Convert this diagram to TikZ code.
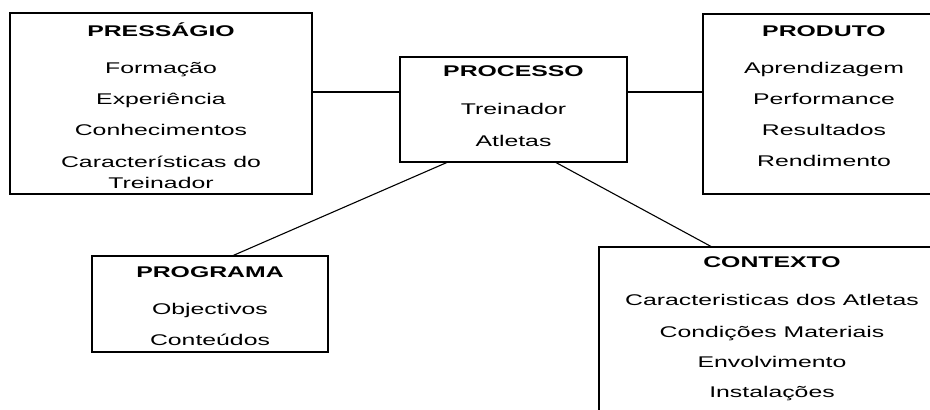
\documentclass[tikz,border=0pt]{standalone}
\usepackage{fontspec}
\setmainfont{Liberation Sans}[FakeStretch=1.6]
\usetikzlibrary{positioning,calc}
\newcommand{\boxstrut}{\rule{0pt}{16pt}}

\begin{document}
\begin{tikzpicture}[x=1pt,y=-1pt]
  \tikzset{
    box/.style={draw,line width=1.6pt,inner sep=0pt,outer sep=0pt,anchor=north west},
    txt/.style={anchor=north,align=center,inner sep=0pt,font=\fontsize{15.5}{31}\selectfont},
    link/.style={line width=1.1pt},
  }
  \useasboundingbox (0,0) rectangle (930,410);
  \clip (0,0) rectangle (930,410);

  \node [box,minimum width=302pt,minimum height=181pt] (pres) at (10,13)  {};
  \node [box,minimum width=227pt,minimum height=105pt] (proc) at (400,57) {};
  \node [box,minimum width=242pt,minimum height=180pt] (prod) at (703,14) {};
  \node [box,minimum width=236pt,minimum height=96pt]  (prog) at (92,256) {};
  \node [box,minimum width=346pt,minimum height=180pt] (cont) at (599,247) {};

  \node [txt,below=7.6pt of pres.north] (pres-t)
    {\boxstrut\textbf{PRESSÁGIO}\\[6pt] Formação\\ Experiência\\ Conhecimentos\\[1pt]
     Características do\\[-10pt] Treinador};
  \node [txt,below=3.6pt of proc.north] (proc-t)
    {\boxstrut\textbf{PROCESSO}\\[7pt] Treinador\\[1pt] Atletas};
  \node [txt,below=6.6pt of prod.north] (prod-t)
    {\boxstrut\textbf{PRODUTO}\\[6pt] Aprendizagem\\ Performance\\ Resultados\\ Rendimento};
  \node [txt,below=5.6pt of prog.north] (prog-t)
    {\boxstrut\textbf{PROGRAMA}\\[6pt] Objectivos\\ Conteúdos};
  \node [txt,below=4.6pt of cont.north] (cont-t)
    {\boxstrut\textbf{CONTEXTO}\\[7pt] Caracteristicas dos Atletas\\[1pt] Condições Materiais\\[-1pt]
     Envolvimento\\[-1pt] Instalações};

  % links
  \coordinate (l1) at ($(proc.west)+(0,-17.5)$);
  \coordinate (r1) at ($(proc.east)+(0,-17.5)$);
  \draw [link] (l1) -- (l1 -| pres.east);
  \draw [link] (r1) -- (r1 -| prod.west);
  \draw [link] ([xshift=-65.5pt]proc.south) -- ([xshift=22pt]prog.north);
  \draw [link] ([xshift=41.5pt]proc.south) -- ([xshift=-60pt]cont.north);
\end{tikzpicture}
\end{document}
